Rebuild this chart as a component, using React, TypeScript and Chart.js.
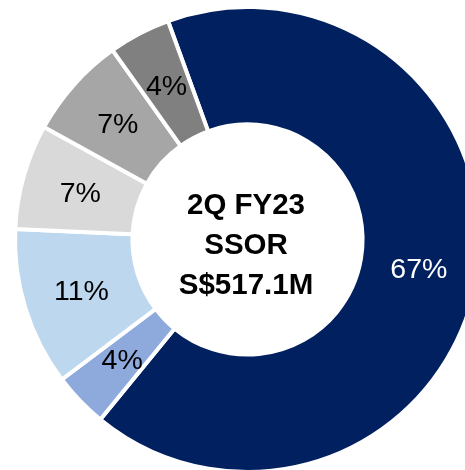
import React, { useEffect, useRef } from "react";
import { Chart, registerables } from "chart.js";

Chart.register(...registerables);

// Slices in clockwise order starting from the large navy segment
const categories = ["Segment 1", "Segment 2", "Segment 3", "Segment 4", "Segment 5", "Segment 6"];
const shares = [66.4, 3.8, 11.0, 7.3, 7.1, 4.3];
const shareLabels = ["67%", "4%", "11%", "7%", "7%", "4%"];
const sliceColors = ["#002060", "#8EA9DB", "#BDD7EE", "#D9D9D9", "#A6A6A6", "#808080"];
const labelColors = ["#FFFFFF", "#000000", "#000000", "#000000", "#000000", "#000000"];
const centerLines = ["2Q FY23", "SSOR", "S$517.1M"];

const CENTER_OFFSETS = [-26, 14.5, 54];

const sliceLabelPlugin = {
  id: "sliceLabels",
  afterDatasetsDraw(chart: any) {
    const ctx = chart.ctx as CanvasRenderingContext2D;
    const meta = chart.getDatasetMeta(0);
    ctx.save();
    ctx.font = "28.5px 'Liberation Sans', Arial, sans-serif";
    ctx.textAlign = "center";
    ctx.textBaseline = "middle";
    meta.data.forEach((arc: any, i: number) => {
      const p = arc.tooltipPosition(false);
      ctx.fillStyle = labelColors[i];
      ctx.fillText(shareLabels[i], p.x, p.y + 1.5);
    });
    const first = meta.data[0];
    const cx = first.x;
    const cy = first.y;
    ctx.font = "bold 29.5px 'Liberation Sans', Arial, sans-serif";
    ctx.textBaseline = "alphabetic";
    ctx.fillStyle = "#000000";
    centerLines.forEach((t, i) => ctx.fillText(t, cx - 1.5, cy + CENTER_OFFSETS[i]));
    ctx.restore();
  },
};

export default function App() {
  const canvasRef = useRef<HTMLCanvasElement | null>(null);

  useEffect(() => {
    if (!canvasRef.current) return;
    const chart = new Chart(canvasRef.current, {
      type: "doughnut",
      data: {
        labels: categories,
        datasets: [
          {
            data: shares,
            backgroundColor: sliceColors,
            borderColor: "#FFFFFF",
            borderWidth: 4,
          },
        ],
      },
      options: {
        responsive: false,
        animation: false,
        rotation: -20,
        radius: 232.5,
        cutout: "49.5%",
        layout: { padding: 0 },
        events: [],
        plugins: {
          legend: { display: false },
          tooltip: { enabled: false },
        },
      },
      plugins: [sliceLabelPlugin],
    });
    return () => chart.destroy();
  }, []);

  return (
    <div style={{ position: "fixed", left: 0, top: 0, width: 495, height: 479, background: "#FFFFFF" }}>
      <canvas ref={canvasRef} width={495} height={479} style={{ display: "block" }} />
    </div>
  );
}
